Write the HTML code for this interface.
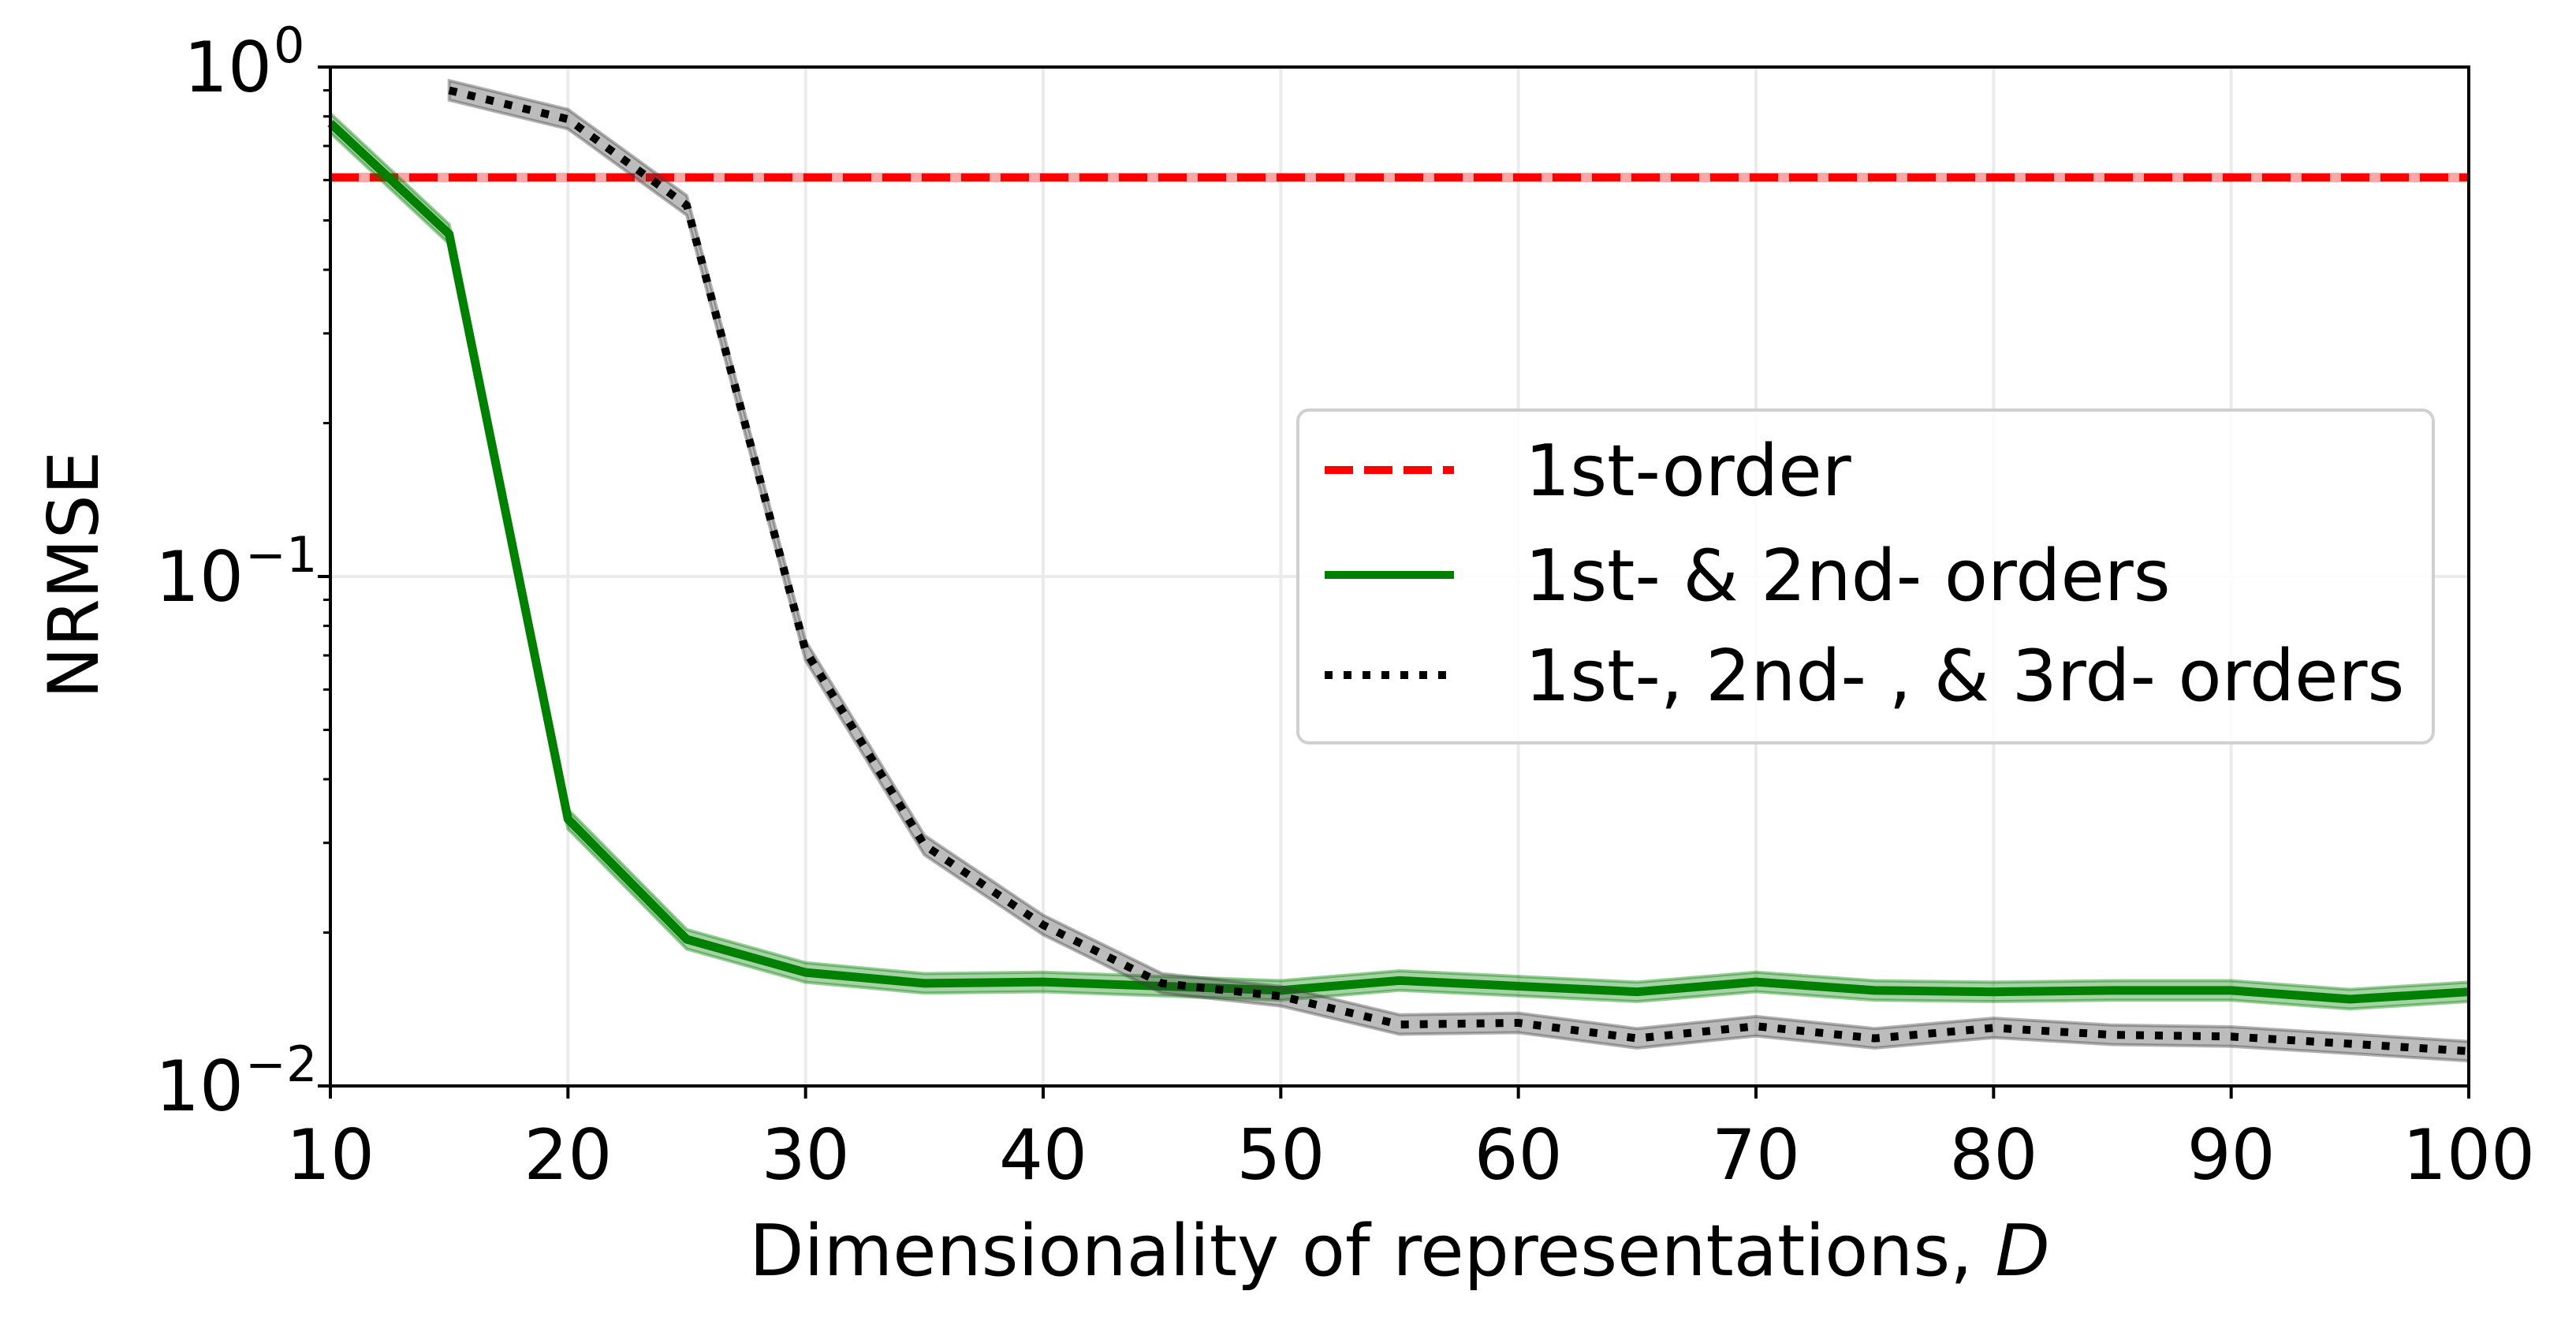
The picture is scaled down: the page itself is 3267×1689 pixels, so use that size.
<!DOCTYPE html>
<html><head><meta charset="utf-8"><style>
html,body{margin:0;padding:0;background:#fff;}
svg text{font-family:"DejaVu Sans","Liberation Sans",sans-serif;fill:#000;}
</style></head><body>
<svg id="chart" width="3267" height="1684" viewBox="0 0 3267 1684" xmlns="http://www.w3.org/2000/svg">
<rect width="3267" height="1684" fill="#fff"/>
<g id="grid"></g>
<g id="series"></g>
<g id="axes"></g>
<text x="0" y="0" font-size="88" text-anchor="middle" transform="translate(124,729) rotate(-90)">NRMSE</text>
<text x="1775" y="1617" font-size="90" text-anchor="middle">Dimensionality of representations, <tspan font-style="italic">D</tspan></text>
<g>
<rect x="1646" y="520" width="1440" height="422" rx="14" fill="#fff" fill-opacity="0.85" stroke="#d0d0d0" stroke-width="4"/>
<line x1="1680" y1="596" x2="1844" y2="596" stroke="#ff0000" stroke-width="10" stroke-dasharray="36,14"/>
<text x="1934" y="628" font-size="90">1st-order</text>
<line x1="1680" y1="729" x2="1844" y2="729" stroke="#008000" stroke-width="10"/>
<text x="1934" y="761" font-size="90">1st- &amp; 2nd- orders</text>
<line x1="1680" y1="856" x2="1844" y2="856" stroke="#000" stroke-width="10" stroke-dasharray="10,14"/>
<text x="1934" y="888" font-size="90">1st-, 2nd- , &amp; 3rd- orders</text>
</g>
</svg>
<script>
const xs = [10,15,20,25,30,35,40,45,50,55,60,65,70,75,80,85,90,95,100];
const firstOrder = 0.607;
const green = [0.776,0.47,0.0334,0.0194,0.0167,0.0159,0.016,0.0157,0.0154,0.0161,0.0157,0.0153,0.016,0.0154,0.0153,0.0154,0.0154,0.0148,0.0153];
const blackX = [15,20,25,30,35,40,45,50,55,60,65,70,75,80,85,90,95,100];
const black = [0.9,0.79,0.535,0.0715,0.0297,0.0207,0.0159,0.015,0.0132,0.0133,0.0124,0.0131,0.0124,0.013,0.0126,0.0125,0.0121,0.0117];
const xTicks = [10,20,30,40,50,60,70,80,90,100];
const yTicks = [0,-1,-2];

const L=419,R=3131,T=85,B=1377;
const X=v=>L+(v-10)/90*(R-L);
const Y=v=>T+(0-Math.log10(v))/2*(B-T);
const NS="http://www.w3.org/2000/svg";
function mk(tag,attrs,parent){const e=document.createElementNS(NS,tag);for(const k in attrs)e.setAttribute(k,attrs[k]);parent.appendChild(e);return e;}
const grid=document.getElementById('grid'),ser=document.getElementById('series'),ax=document.getElementById('axes');

xTicks.forEach(t=>{
  const g=mk('line',{x1:X(t),x2:X(t),y1:T,y2:B,stroke:'#ebebeb','stroke-width':4},grid);
  
  
  const tk=mk('line',{x1:X(t),x2:X(t),y1:B,y2:B+16,stroke:'#000','stroke-width':4},ax);
  
  
  const tx=mk('text',{x:X(t),y:B+118,'font-size':88,'text-anchor':'middle'},ax);
  tx.textContent=t;
  
  
});
yTicks.forEach(p=>{
  const y=Y(Math.pow(10,p));
  const g=mk('line',{x1:L,x2:R,y1:y,y2:y,stroke:'#ebebeb','stroke-width':4},grid);
  
  
  const tk=mk('line',{x1:L-16,x2:L,y1:y,y2:y,stroke:'#000','stroke-width':4},ax);
  
  
  const tx=mk('text',{x:L-74,y:y+31,'font-size':88,'text-anchor':'end'},ax);
  tx.textContent='10';
  
  
  const sup=mk('text',{x:L-72,y:y-6,'font-size':62,'text-anchor':'start'},ax);
  sup.textContent=p===0?'0':'\u2212'+(-p);
  
  
  if(p<0){sup.setAttribute('x',L-108);tx.setAttribute('x',L-110);}
});
for(let p=-2;p<0;p++){for(let m=2;m<10;m++){
  const y=Y(m*Math.pow(10,p));
  const tk=mk('line',{x1:L-9,x2:L,y1:y,y2:y,stroke:'#000','stroke-width':3},ax);
  
  
}}

function pts(xa,ya,f){return xa.map((x,i)=>X(x)+','+Math.max(T,Y(ya[i]*f))).join(' ');}
function band(xa,ya,color,name){
  const up=xa.map((x,i)=>X(x)+','+Math.max(T,Y(ya[i]*1.045)));
  const dn=xa.map((x,i)=>X(x)+','+Y(ya[i]/1.045)).reverse();
  const b=mk('polygon',{points:up.concat(dn).join(' '),fill:color,'fill-opacity':0.35,stroke:color,'stroke-opacity':0.4,'stroke-width':4},ser);
  
  
}
const ry=Y(firstOrder);
const rb=mk('rect',{x:L,y:ry-6,width:R-L,height:12,fill:'#ff0000','fill-opacity':0.35},ser);


const rl=mk('line',{x1:L,x2:R,y1:ry,y2:ry,stroke:'#ff0000','stroke-width':10,'stroke-dasharray':'36,14'},ser);


band(xs,green,'#008000','second-order-band');
const gl=mk('polyline',{points:pts(xs,green,1),fill:'none',stroke:'#008000','stroke-width':11,'stroke-linejoin':'round'},ser);


band(blackX,black,'#404040','third-order-band');
const bl=mk('polyline',{points:pts(blackX,black,1),fill:'none',stroke:'#000','stroke-width':10,'stroke-dasharray':'10,14'},ser);



const frame=mk('rect',{x:L,y:T,width:R-L,height:B-T,fill:'none',stroke:'#000','stroke-width':4},ax);


</script>
</body></html>
